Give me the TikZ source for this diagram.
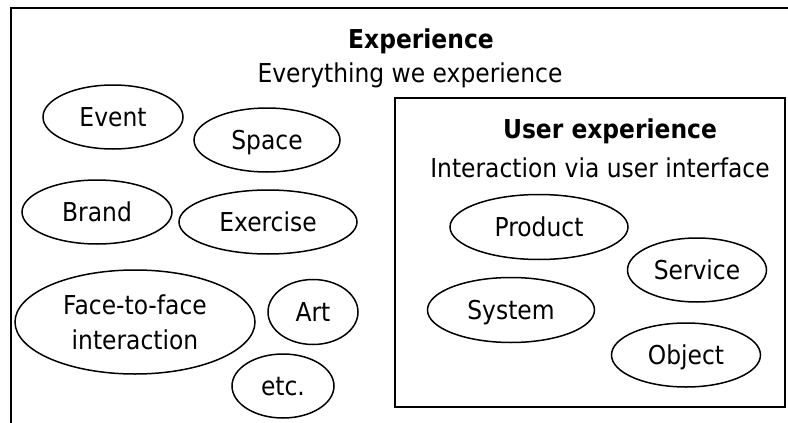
\documentclass[tikz,border=0pt]{standalone}
\usepackage{fontspec}
\setmainfont{DejaVu Sans}[FakeStretch=0.9]
\usetikzlibrary{shapes.geometric}
\begin{document}
\begin{tikzpicture}[x=1pt,y=-1pt,
  box/.style={draw=black,line width=2pt},
  oval/.style={draw=black,line width=1.5pt,ellipse,inner sep=0pt,
    font=\fontsize{26}{35}\selectfont,text height=19pt,text depth=0pt},
  bigoval/.style={draw=black,line width=1.5pt,ellipse,inner sep=0pt,
    font=\fontsize{26}{35}\selectfont,align=center},
  txt/.style={font=\fontsize{26}{32}\selectfont,anchor=base,inner sep=0pt},
  btxt/.style={font=\fontsize{26}{32}\selectfont\bfseries,anchor=base,inner sep=0pt}]
\useasboundingbox (0,0) rectangle (788,423);
\fill[white] (0,0) rectangle (788,423);
% outer box (cropped)
\coordinate (o1) at (11,423);
\coordinate (o2) at (11,8);
\coordinate (o3) at (788,8);
\draw[box] (o1) -- (o2) -- (o3);
\node[btxt] (t1) at (421,48) {Experience};
\node[txt] (t2) at (410,82) {Everything we experience};
% inner box
\node[box,minimum width=390pt,minimum height=309pt,inner sep=0pt] (ux) at (590,252.5) {};
\node[btxt] (t3) at (610,138) {User experience};
\node[txt] (t4) at (600,177) {Interaction via user interface};
% left ellipses
\node[oval,minimum width=140pt,minimum height=64pt] (event) at (113,117) {Event};
\node[oval,minimum width=146pt,minimum height=64pt] (space) at (267,140) {Space};
\node[oval,minimum width=150pt,minimum height=64pt] (brand) at (97,212) {Brand};
\node[oval,minimum width=178pt,minimum height=64pt] (exercise) at (268,222) {Exercise};
\node[bigoval,minimum width=240pt,minimum height=104pt] (face) at (135,322) {Face-to-face\\interaction};
\node[oval,minimum width=90pt,minimum height=65pt] (art) at (313,312) {Art};
\node[oval,minimum width=102pt,minimum height=64pt] (etc) at (283,386) {etc.};
% right ellipses
\node[oval,minimum width=178pt,minimum height=65pt] (product) at (539,227) {Product};
\node[oval,minimum width=139pt,minimum height=64pt] (service) at (697,270) {Service};
\node[oval,minimum width=167pt,minimum height=65pt] (system) at (511,310) {System};
\node[oval,minimum width=149pt,minimum height=64pt] (object) at (686,355) {Object};
\end{tikzpicture}
\end{document}
